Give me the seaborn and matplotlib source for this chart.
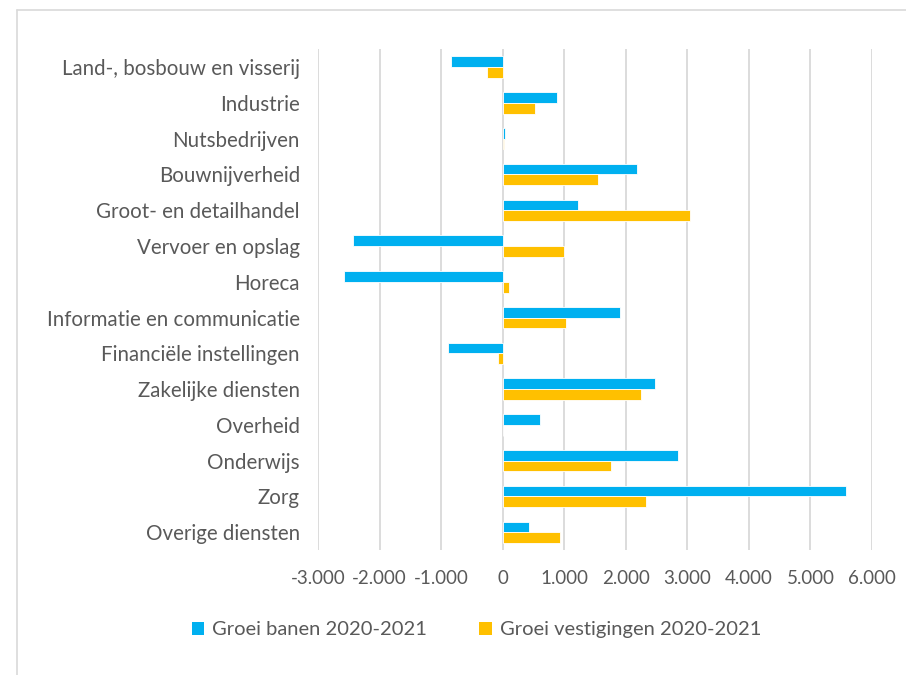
import matplotlib
matplotlib.use("Agg")
import matplotlib.pyplot as plt
import matplotlib.ticker as mticker
from matplotlib.lines import Line2D
from matplotlib.patches import Patch
import seaborn as sns
import pandas as pd

categories = [
    "Land-, bosbouw en visserij", "Industrie", "Nutsbedrijven", "Bouwnijverheid",
    "Groot- en detailhandel", "Vervoer en opslag", "Horeca",
    "Informatie en communicatie", "Financiële instellingen", "Zakelijke diensten",
    "Overheid", "Onderwijs", "Zorg", "Overige diensten",
]
groei_banen = [-840, 880, 40, 2180, 1230, -2430, -2580, 1900, -890, 2480, 600, 2840, 5580, 430]
groei_vestigingen = [-250, 520, 15, 1550, 3050, 1000, 100, 1030, -75, 2240, 5, 1760, 2330, 930]
series_names = ["Groei banen 2020-2021", "Groei vestigingen 2020-2021"]
x_ticks = [-3000, -2000, -1000, 0, 1000, 2000, 3000, 4000, 5000, 6000]

df = pd.DataFrame({
    "categorie": categories * 2,
    "waarde": groei_banen + groei_vestigingen,
    "reeks": [series_names[0]] * len(categories) + [series_names[1]] * len(categories),
})

sns.set_theme(style="white")
plt.rcParams["font.family"] = ["Lato", "DejaVu Sans"]
text_color = "#595959"
colors = ["#00B0F0", "#FFC000"]

fig = plt.figure(figsize=(9.06, 6.75), dpi=100)
ax = fig.add_axes([0.351, 0.185, 0.6115, 0.742])

sns.barplot(data=df, x="waarde", y="categorie", hue="reeks", orient="h",
            palette=colors, saturation=1, width=0.6, ax=ax, legend=False,
            edgecolor="white", linewidth=0.6, order=categories,
            hue_order=series_names, errorbar=None)

ax.set_xlim(-3000, 6000)
ax.set_xticks(x_ticks)
ax.xaxis.set_major_formatter(mticker.FuncFormatter(
    lambda v, p: f"{int(v):,}".replace(",", ".")))
ax.grid(axis="x", color="#D9D9D9", linewidth=1.3)
ax.grid(axis="y", visible=False)
ax.set_axisbelow(True)
for s in ax.spines.values():
    s.set_visible(False)
ax.set_xlabel("")
ax.set_ylabel("")
ax.tick_params(axis="x", length=0, labelsize=13.5, colors=text_color, pad=14)
ax.tick_params(axis="y", length=0, labelsize=14.8, colors=text_color, pad=13)

handles = [Patch(facecolor=c, edgecolor="none") for c in colors]
fig.legend(handles, series_names, loc="center", bbox_to_anchor=(0.526, 0.067),
           ncol=2, frameon=False, fontsize=14.5, labelcolor=text_color,
           handlelength=0.6, handleheight=0.6, handletextpad=0.4, columnspacing=2.6)

# outer chart border (left and top visible)
fig.add_artist(Line2D([0.0185, 0.0185], [0.0, 0.985], transform=fig.transFigure,
                      color="#D9D9D9", linewidth=1.2))
fig.add_artist(Line2D([0.0185, 1.0], [0.985, 0.985], transform=fig.transFigure,
                      color="#D9D9D9", linewidth=1.2))

fig.savefig("out.png", dpi=100, facecolor="white")
